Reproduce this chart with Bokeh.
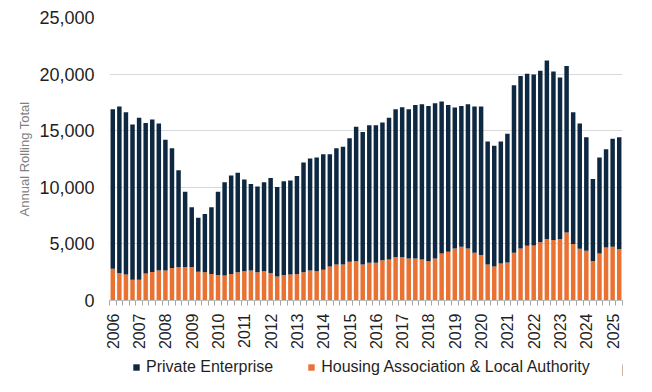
import math
from bokeh.plotting import figure
from bokeh.layouts import column
from bokeh.models import (ColumnDataSource, FixedTicker, Range1d, NumeralTickFormatter,
                          Legend, LegendItem)
from bokeh.embed import file_html
from bokeh.resources import INLINE

# Quarterly annual rolling totals, 2006 Q1 .. 2025 Q2
year_labels = ["2006", "2007", "2008", "2009", "2010", "2011", "2012", "2013", "2014", "2015",
               "2016", "2017", "2018", "2019", "2020", "2021", "2022", "2023", "2024", "2025"]

housing_la = [2810, 2440, 2290, 1830, 1830, 2380, 2520, 2640, 2640, 2870,
              2950, 2950, 2950, 2550, 2490, 2350, 2260, 2210, 2350, 2490,
              2580, 2640, 2490, 2580, 2440, 2120, 2260, 2290, 2350, 2490,
              2640, 2580, 2720, 3010, 3190, 3190, 3420, 3470, 3190, 3330,
              3330, 3560, 3620, 3850, 3850, 3700, 3700, 3620, 3470, 3700,
              4160, 4310, 4600, 4740, 4600, 4220, 4020, 3190, 3010, 3270,
              3360, 4220, 4600, 4830, 4860, 5140, 5430, 5350, 5430, 6010,
              5000, 4570, 4400, 3500, 4160, 4680, 4740, 4540]

private_ent = [14090, 14690, 14330, 13720, 14320, 13310, 13460, 13000, 11550, 10580,
               8560, 6660, 5280, 4760, 5160, 5880, 7350, 8240, 8700, 8790,
               8100, 7660, 7580, 7870, 8380, 7900, 8270, 8300, 8650, 9690,
               9910, 10060, 10210, 9920, 10260, 10400, 10920, 11880, 11700, 12160,
               12160, 12160, 12530, 13050, 13230, 13200, 13580, 13720, 13720, 13720,
               13410, 12970, 12450, 12450, 12740, 12910, 13110, 10860, 10670, 10780,
               11380, 14790, 15240, 15210, 15100, 15160, 15770, 14870, 14270, 14700,
               11620, 11070, 10020, 7240, 8480, 8680, 9540, 9880]

series_names = ["Housing Association & Local Authority", "Private Enterprise"]
colors = ["#E97132", "#0E2841"]

n = len(housing_la)
xs = list(range(n))
src = ColumnDataSource(dict(x=xs, hala=housing_la, priv=private_ent))

FONT = "Liberation Sans"
TXT = "#1f1f1f"

p = figure(width=636, height=352, output_backend="svg", toolbar_location=None,
           x_range=Range1d(-0.5, n - 0.5), y_range=Range1d(0, 25000),
           min_border_left=109, min_border_right=14, min_border_top=17, min_border_bottom=47)
p.outline_line_color = None
p.background_fill_color = "white"
p.border_fill_color = "white"

rs = p.vbar_stack(["hala", "priv"], x="x", width=0.68, source=src,
                  color=colors, line_color=None)

# y axis
p.yaxis.ticker = FixedTicker(ticks=[0, 5000, 10000, 15000, 20000, 25000])
p.yaxis.formatter = NumeralTickFormatter(format="0,0")
p.yaxis.axis_line_color = None
p.yaxis.major_tick_line_color = None
p.yaxis.minor_tick_line_color = None
p.yaxis.major_tick_out = 0
p.yaxis.major_tick_in = 0
p.yaxis.major_label_standoff = 15
p.yaxis.major_label_text_font = FONT
p.yaxis.major_label_text_font_size = "18px"
p.yaxis.major_label_text_color = TXT
p.yaxis.axis_label = "Annual Rolling Total"
p.yaxis.axis_label_text_font = FONT
p.yaxis.axis_label_text_font_size = "13px"
p.yaxis.axis_label_text_font_style = "normal"
p.yaxis.axis_label_text_color = "#808080"
p.yaxis.axis_label_standoff = 4
p.ygrid.grid_line_color = "#D9D9D9"
p.ygrid.grid_line_width = 1

# x axis
year_pos = [4 * i for i in range(len(year_labels))]
p.xaxis.ticker = FixedTicker(ticks=year_pos, minor_ticks=[i - 0.5 for i in range(n + 1)])
p.xaxis.major_label_overrides = {pos: lab for pos, lab in zip(year_pos, year_labels)}
p.xaxis.major_label_orientation = math.pi / 2
p.xaxis.axis_line_color = "#BFBFBF"
p.xaxis.axis_line_width = 1
p.xaxis.major_tick_line_color = None
p.xaxis.major_tick_out = 0
p.xaxis.major_tick_in = 0
p.xaxis.minor_tick_line_color = "#A6A6A6"
p.xaxis.minor_tick_out = 5
p.xaxis.minor_tick_in = 0
p.xaxis.major_label_standoff = 8
p.xaxis.major_label_text_font = FONT
p.xaxis.major_label_text_font_size = "16px"
p.xaxis.major_label_text_color = TXT
p.xgrid.grid_line_color = None

# legend strip below the chart (its frame is aligned with the chart's frame)
lg = figure(width=636, height=24, output_backend="svg", toolbar_location=None,
            x_axis_location=None, y_axis_location=None,
            x_range=Range1d(0, 1), y_range=Range1d(0, 1),
            min_border_left=0, min_border_right=0, min_border_top=0, min_border_bottom=0)
lg.outline_line_color = None
lg.grid.grid_line_color = None
lg.background_fill_color = "white"
lg.border_fill_color = "white"
dummy = ColumnDataSource(dict(x=[5.0], top=[0.5]))
r_priv = lg.vbar(x="x", top="top", width=0.5, source=dummy, color=colors[1], line_color=None)
r_hala = lg.vbar(x="x", top="top", width=0.5, source=dummy, color=colors[0], line_color=None)

legend = Legend(items=[LegendItem(label=series_names[1], renderers=[r_priv]),
                       LegendItem(label=series_names[0], renderers=[r_hala])],
                orientation="horizontal", location=(23, 0),
                glyph_width=8, glyph_height=8, label_standoff=6, spacing=34,
                padding=0, margin=0, border_line_color=None, background_fill_alpha=0,
                label_text_font=FONT, label_text_font_size="16px", label_text_color=TXT)
lg.add_layout(legend, "center")

layout = column(p, lg, spacing=0)
open("out.html", "w").write(file_html(layout, INLINE))
